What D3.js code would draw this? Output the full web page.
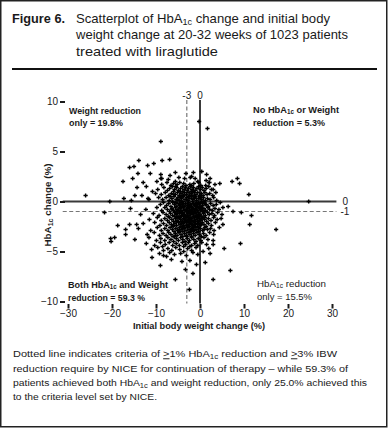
<!DOCTYPE html>
<html><head><meta charset="utf-8">
<script src="https://cdn.jsdelivr.net/npm/d3@7"></script>
<style>body{margin:0;background:#fff}svg{display:block;font-family:"Liberation Sans",Arial,sans-serif}</style>
</head><body><svg id="c" width="388" height="428"></svg>
<script>
// ---------- data ----------
const xTicks = [-30, -20, -10, 0, 10, 20, 30];
const yTicks = [-10, -5, 0, 5, 10];
const solidRefValue = 0;          // both axes
const criteriaWeight = -3;        // dashed vertical
const criteriaHbA1c = -1;         // dashed horizontal
const titleLead = "Figure 6.";
const titleLines = ["Scatterplot of HbA{1c} change and initial body",
                    "weight change at 20-32 weeks of 1023 patients",
                    "treated with liraglutide"];
const footerLines = ["Dotted line indicates criteria of [>]1% HbA{1c} reduction and [>]3% IBW",
                     "reduction require by NICE for continuation of therapy \u2013 while 59.3% of",
                     "patients achieved both HbA{1c} and weight reduction, only 25.0% achieved this",
                     "to the criteria level set by NICE."];
const quadrantWeightOnly = ["Weight reduction", "only = 19.8%"];
const quadrantNeither = ["No HbA{1c} or Weight", "reduction = 5.3%"];
const quadrantBoth = ["Both HbA{1c} and Weight", "reduction = 59.3 %"];
const quadrantHbA1cOnly = ["HbA{1c} reduction", "only = 15.5%"];
const xAxisTitle = "Initial body weight change (%)";
const yAxisTitle = "HbA{1c} change (%)";
// [initial body weight change %, HbA1c change %] per patient
const patients = [
[-5.6,2.9],[-3.2,2.8],[-1.5,2.9],[0.4,3.0],[1.5,2.7],[-6.8,2.6],[-1.9,2.5],
[-8.9,2.3],[-7.2,2.2],[-5.6,2.0],[-4.8,2.4],[-3.5,2.3],[-2.2,2.4],[-1.1,2.3],[-0.5,2.0],[1.4,2.1],[2.3,2.3],
[-8.7,1.7],[-7.5,1.9],[-6.6,1.6],[-6.0,1.8],[-5.2,1.7],[-4.6,1.9],[-3.7,1.8],[-3.2,1.6],[-2.3,1.7],[-1.9,1.6],[-1.4,1.8],[-0.3,1.9],[0.2,1.6],[1.3,1.6],[2.1,1.9],[3.4,1.7],[4.5,1.8],[-5.5,1.5],
[-9.6,1.2],[-8.2,1.4],[-7.4,1.1],[-6.9,1.3],[-6.3,1.5],[-5.8,1.2],[-5.3,1.4],[-4.9,1.1],[-4.4,1.3],[-4.0,1.5],[-3.6,1.2],[-3.3,1.4],[-2.9,1.1],[-2.6,1.3],[-2.2,1.5],[-1.8,1.2],[-1.5,1.4],[-1.1,1.1],[-0.7,1.3],[-0.3,1.5],[0.1,1.2],[0.5,1.4],[0.9,1.1],[1.4,1.3],[2.0,1.5],[2.6,1.2],[3.0,1.2],[-3.9,1.0],[-2.0,1.0],
[-13.2,0.6],[-10.1,0.8],[-8.8,0.7],[-7.9,0.9],[-7.1,0.6],[-6.5,0.8],[-6.0,1.0],[-5.6,0.7],[-5.1,0.9],[-4.7,0.6],[-4.3,0.8],[-3.9,0.6],[-3.5,0.9],[-3.1,0.7],[-2.7,0.9],[-2.4,0.6],[-2.0,0.8],[-1.6,0.6],[-1.3,0.9],[-0.9,0.7],[-0.5,0.9],[-0.1,0.6],[0.3,0.8],[0.7,0.6],[1.1,0.9],[1.6,0.7],[2.2,0.8],[2.9,0.6],[3.6,0.9],[-4.5,1.0],[-1.8,1.0],[-6.8,0.5],
[-15.6,0.1],[-11.8,0.3],[-9.4,0.4],[-8.5,0.2],[-7.7,0.4],[-7.0,0.1],[-6.4,0.3],[-5.9,0.5],[-5.4,0.2],[-5.0,0.4],[-4.6,0.1],[-4.2,0.3],[-3.8,0.5],[-3.4,0.2],[-3.0,0.4],[-2.7,0.1],[-2.3,0.3],[-1.9,0.5],[-1.6,0.2],[-1.2,0.4],[-0.8,0.1],[-0.4,0.3],[0.0,0.5],[0.4,0.2],[0.8,0.4],[1.2,0.1],[1.7,0.3],[2.3,0.2],[3.1,0.4],[3.8,0.1],[-4.4,0.5],[-2.5,0.5],[-6.2,0.0],[-1.0,0.5],
[-9.0,-0.3],[-8.3,-0.1],[-7.6,-0.4],[-7.1,-0.2],[-6.6,-0.5],[-6.2,-0.1],[-5.8,-0.3],[-5.4,-0.5],[-5.0,-0.2],[-4.7,-0.4],[-4.3,-0.1],[-4.0,-0.3],[-3.6,-0.5],[-3.3,-0.2],[-2.9,-0.4],[-2.6,-0.1],[-2.2,-0.3],[-1.9,-0.5],[-1.5,-0.2],[-1.2,-0.4],[-0.8,-0.1],[-0.5,-0.3],[-0.1,-0.5],[0.2,-0.2],[0.6,-0.4],[1.0,-0.1],[1.4,-0.3],[1.9,-0.5],[2.4,-0.2],[3.0,-0.4],[3.7,-0.3],[4.6,-0.1],[6.4,-0.5],[-3.9,0.0],[-1.7,0.0],[-2.8,-0.2],[-4.5,-0.3],[-0.3,-0.1],[-5.5,-0.1],[-2.4,-0.5],[-1.0,-0.3],[0.4,0.0],
[-15.8,-0.7],[-12.3,-0.8],[-9.8,-0.6],[-8.7,-0.9],[-8.0,-0.6],[-7.4,-0.8],[-6.9,-1.0],[-6.4,-0.7],[-6.0,-0.9],[-5.6,-0.6],[-5.2,-0.8],[-4.8,-1.0],[-4.5,-0.7],[-4.1,-0.9],[-3.8,-0.6],[-3.4,-0.8],[-3.1,-1.0],[-2.7,-0.7],[-2.4,-0.9],[-2.0,-0.6],[-1.7,-0.8],[-1.3,-1.0],[-1.0,-0.7],[-0.6,-0.9],[-0.3,-0.6],[0.1,-0.8],[0.5,-1.0],[0.9,-0.7],[1.3,-0.9],[1.8,-0.6],[2.2,-0.8],[2.8,-0.9],[3.4,-0.7],[4.3,-0.8],[5.2,-0.6],[-3.6,-0.5],[-2.2,-0.5],[-0.8,-0.5],[-4.3,-0.6],[-1.5,-0.7],[-2.9,-0.9],[-5.0,-0.9],[0.3,-0.6],
[-21.7,-1.1],[-13.5,-1.3],[-10.6,-1.2],[-9.3,-1.4],[-8.4,-1.1],[-7.7,-1.3],[-7.2,-1.5],[-6.7,-1.2],[-6.2,-1.4],[-5.8,-1.1],[-5.4,-1.3],[-5.0,-1.5],[-4.6,-1.2],[-4.2,-1.4],[-3.9,-1.1],[-3.5,-1.3],[-3.2,-1.5],[-2.8,-1.2],[-2.5,-1.4],[-2.1,-1.1],[-1.8,-1.3],[-1.4,-1.5],[-1.1,-1.2],[-0.7,-1.4],[-0.4,-1.1],[0.0,-1.3],[0.4,-1.5],[0.8,-1.2],[1.2,-1.4],[1.7,-1.1],[2.1,-1.3],[2.7,-1.2],[3.3,-1.4],[4.0,-1.1],[5.0,-1.3],[7.5,-1.0],[9.4,-1.1],[11.7,-1.4],[-3.0,-1.0],[-1.6,-1.0],[-4.4,-1.0],[-0.2,-1.4],[-2.3,-1.2],[-3.7,-1.5],[-5.2,-1.0],[1.0,-1.0],
[-11.5,-1.8],[-9.7,-1.6],[-8.8,-1.9],[-8.0,-1.7],[-7.4,-1.9],[-6.9,-1.6],[-6.4,-1.8],[-6.0,-2.0],[-5.6,-1.7],[-5.2,-1.9],[-4.8,-1.6],[-4.4,-1.8],[-4.0,-2.0],[-3.7,-1.7],[-3.3,-1.9],[-3.0,-1.6],[-2.6,-1.8],[-2.3,-2.0],[-1.9,-1.7],[-1.6,-1.9],[-1.2,-1.6],[-0.9,-1.8],[-0.5,-2.0],[-0.2,-1.7],[0.2,-1.9],[0.6,-1.6],[1.0,-1.8],[1.5,-2.0],[1.9,-1.7],[2.5,-1.9],[3.1,-1.6],[3.9,-1.8],[4.8,-1.7],[-2.8,-1.5],[-1.4,-1.5],[-4.2,-1.5],[-0.7,-1.6],[-3.5,-2.0],[-2.0,-1.9],[-5.0,-1.6],
[-18.7,-2.4],[-16.0,-2.3],[-14.4,-2.3],[-12.9,-2.2],[-10.3,-2.1],[-9.1,-2.4],[-8.3,-2.2],[-7.6,-2.4],[-7.0,-2.1],[-6.5,-2.3],[-6.1,-2.5],[-5.7,-2.2],[-5.3,-2.4],[-4.9,-2.1],[-4.5,-2.3],[-4.1,-2.5],[-3.8,-2.2],[-3.4,-2.4],[-3.1,-2.1],[-2.7,-2.3],[-2.4,-2.5],[-2.0,-2.2],[-1.7,-2.4],[-1.3,-2.1],[-1.0,-2.3],[-0.6,-2.5],[-0.3,-2.2],[0.1,-2.4],[0.5,-2.1],[0.9,-2.3],[1.4,-2.5],[1.9,-2.2],[2.6,-2.4],[3.5,-2.1],[5.2,-2.3],[11.3,-2.3],[-2.9,-2.0],[-4.3,-2.0],[-1.5,-2.0],
[-16.9,-2.8],[-14.0,-2.7],[-11.2,-2.9],[-9.7,-2.6],[-8.8,-2.9],[-8.0,-2.7],[-7.3,-2.9],[-6.8,-2.6],[-6.3,-2.8],[-5.9,-3.0],[-5.5,-2.7],[-5.1,-2.9],[-4.7,-2.6],[-4.3,-2.8],[-3.9,-3.0],[-3.6,-2.7],[-3.2,-2.9],[-2.9,-2.6],[-2.5,-2.8],[-2.2,-3.0],[-1.8,-2.7],[-1.5,-2.9],[-1.1,-2.6],[-0.7,-2.8],[-0.3,-3.0],[0.1,-2.7],[0.6,-2.9],[1.1,-2.6],[1.7,-2.8],[2.4,-2.7],[3.2,-2.9],[4.4,-2.6],[17.3,-2.8],[-2.7,-2.5],[-4.0,-2.5],[-1.3,-2.5],
[-16.9,-3.3],[-12.0,-3.3],[-10.4,-3.1],[-9.2,-3.4],[-8.4,-3.2],[-7.7,-3.4],[-7.1,-3.1],[-6.6,-3.3],[-6.1,-3.5],[-5.6,-3.2],[-5.2,-3.4],[-4.8,-3.1],[-4.3,-3.3],[-3.9,-3.5],[-3.5,-3.2],[-3.1,-3.4],[-2.7,-3.1],[-2.3,-3.3],[-1.9,-3.5],[-1.5,-3.2],[-1.1,-3.4],[-0.7,-3.1],[-0.2,-3.3],[0.3,-3.5],[0.8,-3.2],[1.4,-3.4],[2.2,-3.1],[3.1,-3.3],[-4.6,-3.0],[-2.0,-3.0],
[-20.3,-3.7],[-19.4,-3.6],[-14.8,-3.8],[-11.6,-3.6],[-9.9,-3.9],[-8.9,-3.7],[-8.0,-3.9],[-7.3,-3.6],[-6.6,-3.8],[-6.0,-4.0],[-5.4,-3.7],[-4.9,-3.9],[-4.4,-3.6],[-3.9,-3.8],[-3.4,-4.0],[-2.9,-3.7],[-2.4,-3.9],[-1.9,-3.6],[-1.4,-3.8],[-0.9,-4.0],[-0.4,-3.7],[0.2,-3.9],[0.9,-3.6],[1.8,-3.8],[3.0,-3.9],[-3.0,-3.5],[-5.8,-3.5],
[-20.2,-4.0],[-12.2,-4.2],[-10.3,-4.4],[-9.0,-4.1],[-7.9,-4.3],[-7.0,-4.1],[-6.2,-4.4],[-5.4,-4.2],[-4.7,-4.4],[-4.0,-4.1],[-3.3,-4.3],[-2.6,-4.1],[-1.9,-4.4],[-1.2,-4.2],[-0.5,-4.4],[0.4,-4.1],[1.5,-4.3],[3.0,-4.3],[9.2,-4.2],[-8.5,-4.5],[-3.7,-4.5],
[-11.0,-4.8],[-9.6,-4.6],[-8.3,-4.9],[-7.3,-4.7],[-6.4,-4.9],[-5.5,-4.6],[-4.6,-4.8],[-3.7,-5.0],[-2.8,-4.7],[-1.9,-4.9],[-0.9,-4.6],[0.7,-5.0],[2.0,-4.7],[5.5,-4.7],[-2.3,-4.5],
[-9.2,-5.2],[-8.3,-5.4],[-6.9,-5.1],[-5.8,-5.3],[-4.4,-5.2],[-3.1,-5.4],[-1.6,-5.1],[-0.5,-5.3],[2.3,-5.2],[-7.6,-5.5],
[-10.9,-5.6],[-6.5,-5.8],[-4.1,-6.0],[-2.3,-5.9],[-0.8,-6.3],[1.2,-6.1],[-9.0,-6.4],[-3.3,-6.8],[6.9,-6.9],[-5.6,-7.8],[3.0,-7.8],[-2.4,-8.8],[-1.6,-7.2],
[-0.2,8.0],[1.7,7.3],[-8.9,6.0],[-13.9,4.1],[-6.9,4.2],[-8.6,4.1],[-10.5,3.8],[-11.9,3.6],[-15.0,3.5],[-16.0,3.4],[-14.1,2.8],[-17.5,2.0],[-15.3,2.3],[-11.3,2.8],[-8.9,2.7],[-8.7,2.3],[-26.0,0.6],[-20.5,0.0],[-14.8,0.6],[-14.3,1.4],[-17.3,0.3],[7.3,2.0],[8.5,2.3],[9.0,1.8],[11.1,0.7],[24.7,0.0],[2.1,1.9],[-12.2,1.5],[-10.8,1.0],[-11.6,0.2],[-9.8,2.0],[-12.9,1.9],
[-5.9,0.7],[-5.1,0.2],[-4.6,-0.6],[-4.0,-1.2],[-3.5,-1.8],[-3.0,-2.4],[-2.6,-0.4],[-2.1,-1.6],[-1.7,-2.6],[-1.3,0.3],[-0.9,-1.1],[-0.5,-2.2],[-0.1,-0.7],[0.4,-1.7],[0.9,-2.8],[1.3,-0.3],[-5.4,-2.0],[-4.9,-2.9],[-4.4,0.4],[-3.8,-0.2],
[-3.3,-0.9],[-2.9,-1.4],[-2.5,-2.1],[-2.0,-2.8],[-1.6,-0.2],[-1.1,-0.8],[-0.7,-1.5],[-0.3,-2.6],[0.1,0.4],[0.6,-0.9],[-5.7,-1.5],[-6.3,-0.8],[-4.2,-2.2],[-3.6,-2.6],[-3.1,0.2],[-2.7,-1.1],[-2.3,-1.9],[-1.9,-2.3],[-1.4,-1.2],[-1.0,-2.0],
[-0.6,-0.3],[-0.2,-1.9],[0.3,-2.3],[0.8,-0.1],[-4.7,-1.6],[-3.9,-2.7],[-2.0,0.6],[-1.2,-2.9],[-3.4,-1.5],[-2.8,-0.6],[-2.4,-1.7],[-1.8,-1.0],[-4.1,-0.5],[-5.2,-1.2],[-0.4,-1.3],[1.1,-1.6],[-6.0,-2.4],[-3.7,0.6],[-1.5,-2.4],[-2.2,-0.9]
];

// ---------- drawing ----------
const svg = d3.select("#c");
const ink = "#1a1a1a";
const x = d3.scaleLinear().domain([-30, 30]).range([68, 332]);
const y = d3.scaleLinear().domain([-10, 10]).range([301.5, 101.5]);

svg.append("rect").attr("x",0.75).attr("y",0.75).attr("width",386).attr("height",426)
  .attr("fill","none").attr("stroke","#222").attr("stroke-width",1.5);
svg.append("line").attr("x1",12).attr("x2",377).attr("y1",69).attr("y2",69)
  .attr("stroke","#111").attr("stroke-width",2);

function rich(textSel, str, subSize, shift){
  const parts = str.split(/(\{[^}]*\}|\[[^\]]*\])/).filter(s=>s.length);
  let down = 0;
  parts.forEach(p=>{
    const t = textSel.append("tspan");
    if(p[0]==="{"){ t.text(p.slice(1,-1)).attr("font-size",subSize).attr("dy",shift); down = shift; }
    else if(p[0]==="["){ t.text(p.slice(1,-1)).style("text-decoration","underline"); if(down){t.attr("dy",-down);down=0;} }
    else { t.text(p); if(down){ t.attr("dy",-down); down=0; } }
  });
  return textSel;
}
function addText(str, xx, yy, size, weight, len, subSize, shift){
  const t = svg.append("text").attr("x",xx).attr("y",yy).attr("font-size",size)
    .attr("font-weight",weight).attr("fill",ink);
  rich(t, str, subSize||size*0.7, shift||size*0.22);
  if(len) t.attr("textLength",len).attr("lengthAdjust","spacingAndGlyphs");
  return t;
}

// title
addText(titleLead, 12, 22.5, 13, "bold", 53);
const titleLens = [254, 272, 142];
titleLines.forEach((s,i)=> addText(s, 76, 22.5 + i*16.8, 13, "normal", titleLens[i], 9, 2.5));

// footer
const footLens = [324, 335, 354, 144];
footerLines.forEach((s,i)=> addText(s, 13, 357.3 + i*14.3, 9.6, "normal", footLens[i], 7, 2));

// reference lines
svg.append("line").attr("x1",x(-31.2)).attr("x2",x(31)).attr("y1",y(criteriaHbA1c)).attr("y2",y(criteriaHbA1c))
  .attr("stroke","#777").attr("stroke-width",1.2).attr("stroke-dasharray","4,2.5");
svg.append("line").attr("x1",x(criteriaWeight)).attr("x2",x(criteriaWeight)).attr("y1",y(10.15)).attr("y2",y(-10.2))
  .attr("stroke","#777").attr("stroke-width",1.2).attr("stroke-dasharray","4,2.5");
svg.append("line").attr("x1",x(-31.2)).attr("x2",x(31)).attr("y1",y(solidRefValue)).attr("y2",y(solidRefValue))
  .attr("stroke","#3a3a3a").attr("stroke-width",2);
svg.append("line").attr("x1",x(solidRefValue)).attr("x2",x(solidRefValue)).attr("y1",y(10.15)).attr("y2",y(-10.2))
  .attr("stroke","#3a3a3a").attr("stroke-width",2);

const refLab = (t, xx, yy, anchor, base) => svg.append("text").attr("x",xx).attr("y",yy)
  .attr("font-size",10).attr("fill",ink).attr("text-anchor",anchor).attr("dominant-baseline",base).text(t);
refLab(String(solidRefValue), x(31)+6, y(solidRefValue)+0.5, "start", "middle");
refLab(String(criteriaHbA1c), x(31)+4, y(criteriaHbA1c)+1, "start", "middle");
refLab(String(criteriaWeight), x(criteriaWeight), 98.5, "middle", "auto");
refLab(String(solidRefValue), x(solidRefValue), 98.5, "middle", "auto");

// axes (ticks only)
const yAxis = svg.append("g").attr("transform","translate(65,0)")
  .call(d3.axisLeft(y).tickValues(yTicks).tickSize(5).tickPadding(2).tickFormat(d3.format("d")));
const xAxis = svg.append("g").attr("transform","translate(0,304)")
  .call(d3.axisBottom(x).tickValues(xTicks).tickSize(4.5).tickPadding(1).tickFormat(d3.format("d")));
[yAxis, xAxis].forEach(g=>{
  g.select(".domain").remove();
  g.selectAll(".tick line").attr("stroke",ink).attr("stroke-width",2);
  g.selectAll(".tick text").attr("fill",ink).attr("font-size",10)
    .attr("font-family","'Liberation Sans',Arial,sans-serif");
});

// points
const sym = d3.symbol().type(d3.symbolCross).size(10);
svg.append("g").selectAll("path").data(patients).join("path")
  .attr("transform", d=>`translate(${x(d[0])},${y(d[1])})`)
  .attr("d", sym).attr("fill","#000");

// axis titles
addText(xAxisTitle, 133, 329, 9.8, "bold", 132);
const yt = svg.append("text").attr("transform","translate(51,205) rotate(-90)")
  .attr("text-anchor","middle").attr("font-size",9.8).attr("font-weight","bold").attr("fill",ink);
rich(yt, yAxisTitle, 7, 2);

// quadrant labels
const qd = [
  [quadrantWeightOnly, 69, 113.5, "bold", [72, 54]],
  [quadrantNeither, 253, 113, "bold", [86, 72]],
  [quadrantBoth, 68, 288, "bold", [100, 77]],
  [quadrantHbA1cOnly, 257, 287, "normal", [69, 55]]
];
qd.forEach(([lines, xx, yy, w, lens])=>{
  lines.forEach((s,i)=> addText(s, xx, yy + i*12.5, 9.3, w, lens[i], 6.3, 1.1));
});
</script></body></html>
